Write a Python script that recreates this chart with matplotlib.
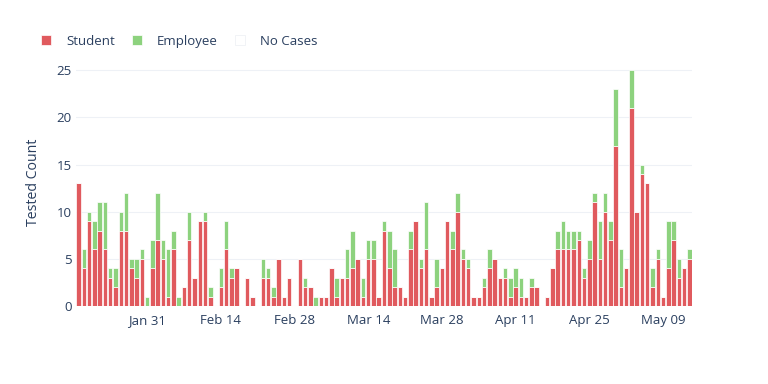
import pandas as pd
import matplotlib
matplotlib.use("Agg")
import matplotlib.pyplot as plt
import matplotlib.dates as mdates
from matplotlib.lines import Line2D

plt.rcParams["font.family"] = ["Open Sans", "DejaVu Sans"]

# daily tested counts, 2021-01-18 .. 2021-05-14
dates = pd.date_range("2021-01-18", "2021-05-14", freq="D")

student = [
    13, 4, 9, 6, 8, 6, 3, 2, 8, 8, 4, 3, 5, 0, 4, 7, 5, 1, 6, 0,
    2, 7, 3, 9, 9, 1, 0, 2, 6, 3, 4, 0, 3, 1, 0, 3, 3, 1, 5, 1,
    3, 0, 5, 2, 2, 0, 1, 1, 4, 1, 3, 3, 4, 5, 1, 5, 5, 1, 8, 4,
    2, 2, 1, 6, 9, 4, 6, 1, 2, 4, 9, 6, 10, 5, 4, 1, 1, 2, 4, 5,
    3, 3, 1, 2, 1, 1, 2, 2, 0, 1, 4, 6, 6, 6, 6, 7, 3, 5, 11, 5,
    10, 7, 17, 2, 4, 21, 10, 14, 13, 2, 5, 1, 4, 7, 3, 4, 5,
]
employee = [
    0, 2, 1, 3, 3, 5, 1, 2, 2, 4, 1, 2, 1, 1, 3, 5, 2, 5, 2, 1,
    0, 3, 0, 0, 1, 1, 0, 2, 3, 1, 0, 0, 0, 0, 0, 2, 1, 1, 0, 0,
    0, 0, 0, 1, 0, 1, 0, 0, 0, 2, 0, 3, 4, 0, 2, 2, 2, 0, 1, 4,
    4, 0, 0, 2, 0, 1, 5, 0, 3, 0, 0, 2, 2, 1, 1, 0, 0, 1, 2, 0,
    0, 1, 2, 2, 2, 0, 1, 0, 0, 0, 0, 2, 3, 2, 2, 1, 1, 2, 1, 4,
    2, 2, 6, 4, 0, 4, 0, 1, 0, 2, 1, 0, 5, 2, 2, 0, 1,
]

red = "#e05a5e"
green = "#8dd27e"
text_color = "#2a3f5f"

fig = plt.figure(figsize=(7.68, 3.84), dpi=100)
ax = fig.add_axes([0.099, 0.203, 0.802, 0.646])

ax.bar(dates, student, width=0.85, color=red, edgecolor="white", linewidth=0.5)
ax.bar(dates, employee, bottom=student, width=0.85, color=green,
       edgecolor="white", linewidth=0.5)

ax.set_xlim(dates[0] - pd.Timedelta(hours=12), dates[-1] + pd.Timedelta(hours=12))
ax.set_ylim(0, 26.3)
ax.set_yticks([0, 5, 10, 15, 20, 25])

ticks = pd.date_range("2021-01-31", "2021-05-09", freq="14D")
ax.set_xticks(ticks)
ax.xaxis.set_major_formatter(mdates.DateFormatter("%b %d"))

ax.tick_params(length=0, labelsize=9.5, colors=text_color)
ax.tick_params(axis="x", pad=6)
ax.tick_params(axis="y", pad=3)
ax.grid(axis="y", color="#eef1f6", linewidth=0.8)
ax.set_axisbelow(True)
for s in ax.spines.values():
    s.set_visible(False)

ax.set_ylabel("Tested Count", fontsize=10.2, color=text_color, labelpad=11)

handles = [
    Line2D([], [], marker="s", linestyle="", markersize=7,
           markerfacecolor=red, markeredgecolor="white", markeredgewidth=0.5),
    Line2D([], [], marker="s", linestyle="", markersize=7,
           markerfacecolor=green, markeredgecolor="white", markeredgewidth=0.5),
    Line2D([], [], marker="s", linestyle="", markersize=7,
           markerfacecolor="white", markeredgecolor="#eceef3", markeredgewidth=0.5),
]
fig.legend(handles, ["Student", "Employee", "No Cases"], loc="upper left",
           bbox_to_anchor=(0.038, 0.94), ncol=3, frameon=False, fontsize=9.5,
           handlelength=0.8, handletextpad=1.1,
           columnspacing=1.3, labelcolor=text_color)

fig.savefig("out.png", dpi=100)
